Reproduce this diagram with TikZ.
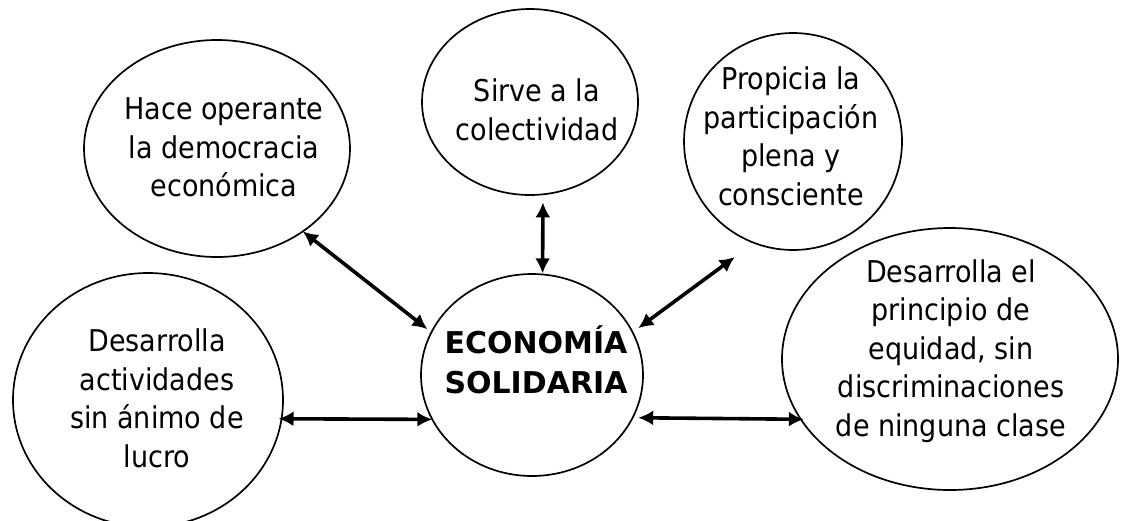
\documentclass[tikz,border=0pt]{standalone}
\usepackage{fontspec}
\setmainfont{DejaVu Sans Condensed}
\newfontfamily\widefont{DejaVu Sans}
\usetikzlibrary{shapes.geometric,arrows.meta,calc}
\begin{document}
\begin{tikzpicture}[x=1pt,y=-1pt,
  bub/.style={draw,line width=1.7pt,ellipse,inner sep=0pt,outer sep=0pt},
  txt/.style={align=center,font=\fontsize{30}{38.5}\selectfont,inner sep=0pt},
  ctxt/.style={align=center,font=\widefont\bfseries\fontsize{30}{40}\selectfont,inner sep=0pt},
  dbl/.style={{Latex[length=15pt,width=15pt]}-{Latex[length=15pt,width=15pt]},line width=3.6pt}]
\useasboundingbox (0,0) rectangle (1123,520);
\fill[white] (0,0) rectangle (1123,520);
\clip (0,0) rectangle (1123,520);
% bubbles
\node[bub,minimum width=266pt,minimum height=217pt] (e1) at (217,148.5) {};
\node[bub,minimum width=216pt,minimum height=186pt] (e2) at (530,102) {};
\node[bub,minimum width=218pt,minimum height=217pt] (e3) at (793,141.5) {};
\node[bub,minimum width=222pt,minimum height=202pt] (c) at (532,375) {};
\node[bub,minimum width=270pt,minimum height=254pt] (e4) at (148,400) {};
\node[bub,minimum width=336pt,minimum height=262pt] (e5) at (950,359) {};
% texts
\node[txt] (t1) at (224,147.6) {Hace operante\\la democracia\\económica};
\node[txt] (t2) at (537,109.9) {Sirve a la\\colectividad};
\node[txt] (t3) at (791,136.4) {Propicia la\\participación\\plena y\\consciente};
\node[ctxt] (tc) at (536,359.3) {ECONOMÍA\\SOLIDARIA};
\node[txt] (t4) at (157,398.4) {Desarrolla\\actividades\\sin ánimo de\\lucro};
\node[txt] (t5) at (951,351.1) {Desarrolla el\\principio de\\equidad, sin\\discriminaciones\\de ninguna clase};
% connectors
\draw[dbl, shorten >=5pt] (e1.-44.5) -- (c.157.5);
\draw[dbl, shorten <=8pt, shorten >=1pt] (e2.-82.6) -- (c.84.4);
\draw[dbl, shorten <=24pt, shorten >=7pt] (e3.-111.9) -- (c.23.9);
\draw[dbl, shorten <=-3pt] (e4.-8.1) -- (c.-156.2);
\draw[dbl, shorten <=5.6pt, shorten >=-3pt] (c.-23.2) -- (e5.-158.5);
\end{tikzpicture}
\end{document}
